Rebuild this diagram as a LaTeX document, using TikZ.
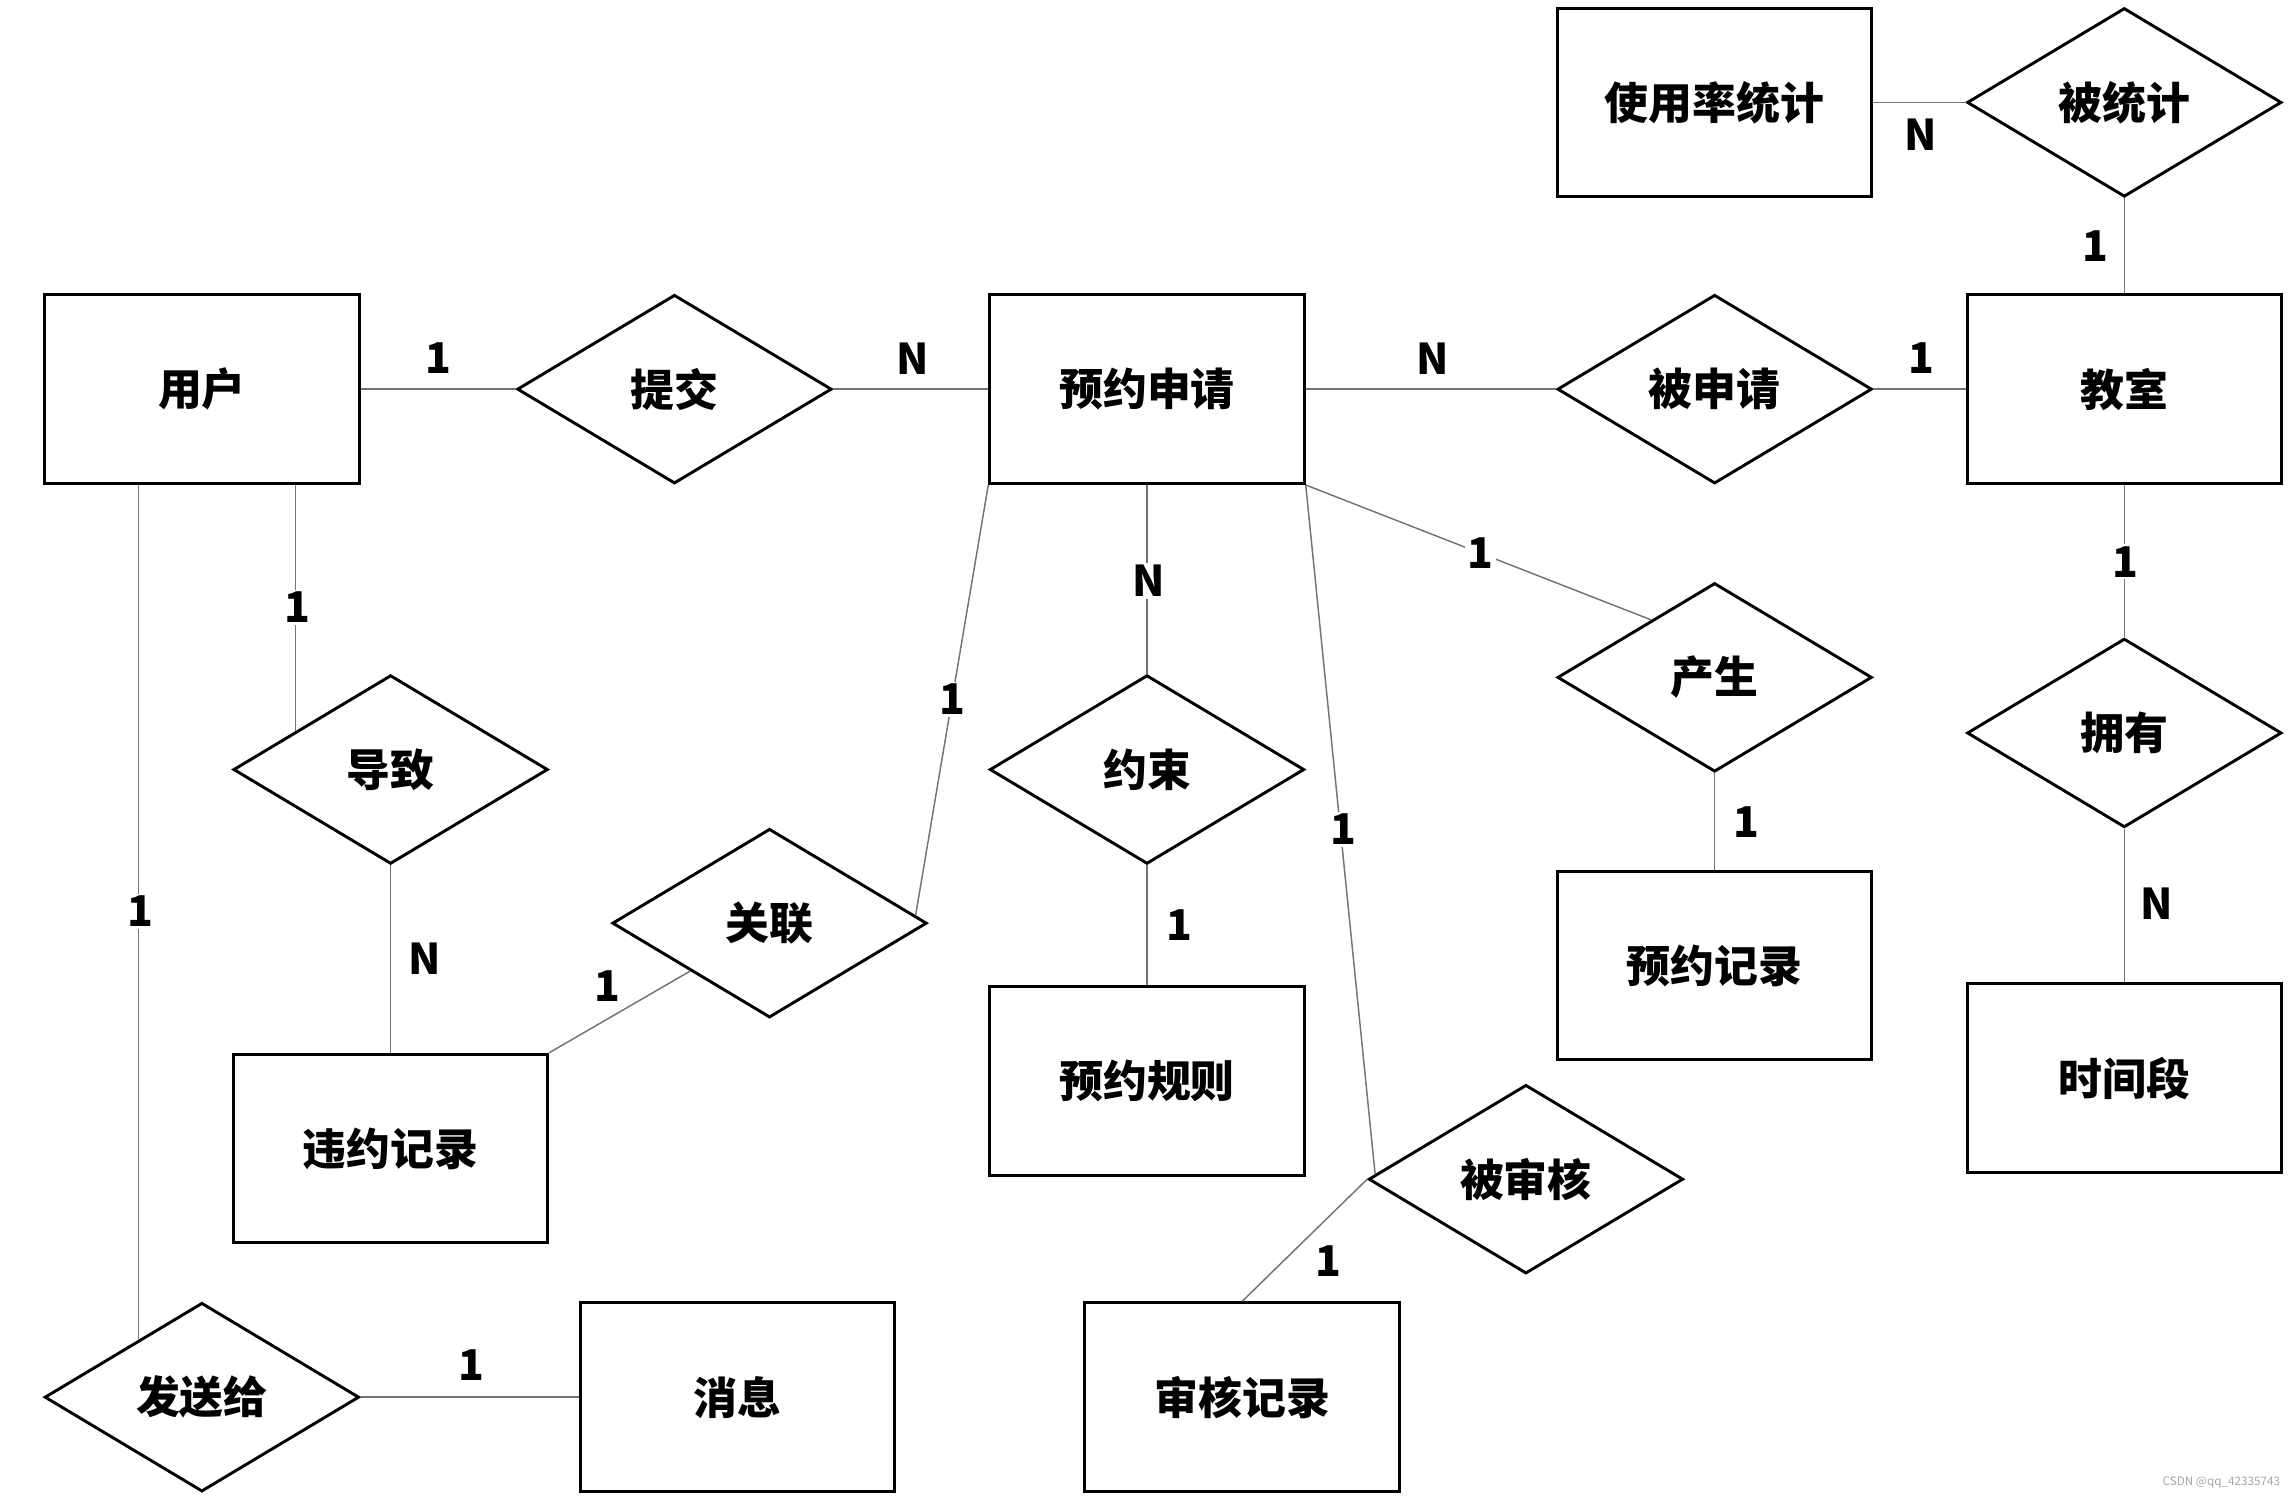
\documentclass[tikz,border=0pt]{standalone}
\usepackage{fontspec}
\setmainfont{Noto Sans CJK SC}
\usetikzlibrary{shapes.geometric,calc}
\begin{document}
\begin{tikzpicture}[x=1pt,y=-1pt,
  ent/.style={draw,line width=2pt,rectangle,minimum width=215pt,minimum height=129pt,inner sep=0pt,font=\fontsize{30}{32}\selectfont\bfseries},
  rel/.style={draw,line width=2pt,diamond,minimum width=215pt,minimum height=129pt,aspect=1.667,inner sep=0pt,font=\fontsize{30}{32}\selectfont\bfseries},
  conn/.style={draw=black!55,line width=1pt},
  card/.style={fill=white,inner sep=1.5pt,font=\fontsize{29}{30}\selectfont\bfseries}]
\useasboundingbox (0,0) rectangle (1568,1024);
% entities
\node[ent] (yonghu) at (138,266) {用户};
\node[ent] (shenqing) at (784,266) {预约申请};
\node[ent] (jiaoshi) at (1452,266) {教室};
\node[ent] (tongji) at (1172,70) {使用率统计};
\node[ent] (weiyue) at (267,785) {违约记录};
\node[ent] (guize) at (784,739) {预约规则};
\node[ent] (jilu) at (1172,660) {预约记录};
\node[ent] (shijian) at (1452,737) {时间段};
\node[ent] (xiaoxi) at (504,955) {消息};
\node[ent] (shenhe) at (849,955) {审核记录};
% relationships
\node[rel] (tijiao) at (461,266) {提交};
\node[rel] (beishenqing) at (1172,266) {被申请};
\node[rel] (beitongji) at (1452,70) {被统计};
\node[rel] (daozhi) at (267,526) {导致};
\node[rel] (yueshu) at (784,526) {约束};
\node[rel] (guanlian) at (526,631) {关联};
\node[rel] (chansheng) at (1172,463) {产生};
\node[rel] (yongyou) at (1452,501) {拥有};
\node[rel] (beishenhe) at (1043,806) {被审核};
\node[rel] (fasong) at (138,955) {发送给};
% helper coordinates
\coordinate (c1) at ($(chansheng.west)!0.6!(chansheng.north)$);
\coordinate (c2) at ($(daozhi.west)!0.4!(daozhi.north)$);
\coordinate (c3) at ($(fasong.west)!0.6!(fasong.north)$);
\coordinate (c4) at ($(guanlian.north)!0.92!(guanlian.east)$);
\coordinate (c5) at ($(beishenhe.west)!0.05!(beishenhe.north)$);
% connectors
\draw[conn] (yonghu.east) -- (tijiao.west);
\draw[conn] (tijiao.east) -- (shenqing.west);
\draw[conn] (shenqing.east) -- (beishenqing.west);
\draw[conn] (beishenqing.east) -- (jiaoshi.west);
\draw[conn] (tongji.east) -- (beitongji.west);
\draw[conn] (beitongji.south) -- (jiaoshi.north);
\draw[conn] (jiaoshi.south) -- (yongyou.north);
\draw[conn] (yongyou.south) -- (shijian.north);
\draw[conn] (shenqing.south east) -- (c1);
\draw[conn] (chansheng.south) -- (jilu.north);
\draw[conn] (shenqing.south) -- (yueshu.north);
\draw[conn] (yueshu.south) -- (guize.north);
\draw[conn] (shenqing.south west) -- (c4);
\draw[conn] (guanlian.south west) -- (weiyue.north east);
\draw[conn] (c2 |- yonghu.south) -- (c2);
\draw[conn] (daozhi.south) -- (weiyue.north);
\draw[conn] (c3 |- yonghu.south) -- (c3);
\draw[conn] (fasong.east) -- (xiaoxi.west);
\draw[conn] (shenqing.south east) -- (c5);
\draw[conn] (beishenhe.west) -- (shenhe.north);
% cardinalities
\node[card] (k1) at (300,245) {1};
\node[card] (k2) at (624,245) {N};
\node[card] (k3) at (979,245) {N};
\node[card] (k4) at (1313,245) {1};
\node[card] (k5) at (1313,92) {N};
\node[card] (k6) at (1432,168) {1};
\node[card] (k7) at (1453,384) {1};
\node[card] (k8) at (1474,618) {N};
\node[card] (k9) at (1012,378) {1};
\node[card] (k10) at (1194,562) {1};
\node[card] (k11) at (785,397) {N};
\node[card] (k12) at (806,632) {1};
\node[card] (k13) at (651,478) {1};
\node[card] (k14) at (415,674) {1};
\node[card] (k15) at (203,415) {1};
\node[card] (k16) at (290,655) {N};
\node[card] (k17) at (96,623) {1};
\node[card] (k18) at (322,933) {1};
\node[card] (k19) at (918,567) {1};
\node[card] (k20) at (908,862) {1};
% watermark
\node[text=black!35,font=\fontsize{8}{9}\selectfont,anchor=east] (wm) at (1562,1013) {CSDN @qq\_42335743};
\end{tikzpicture}
\end{document}
